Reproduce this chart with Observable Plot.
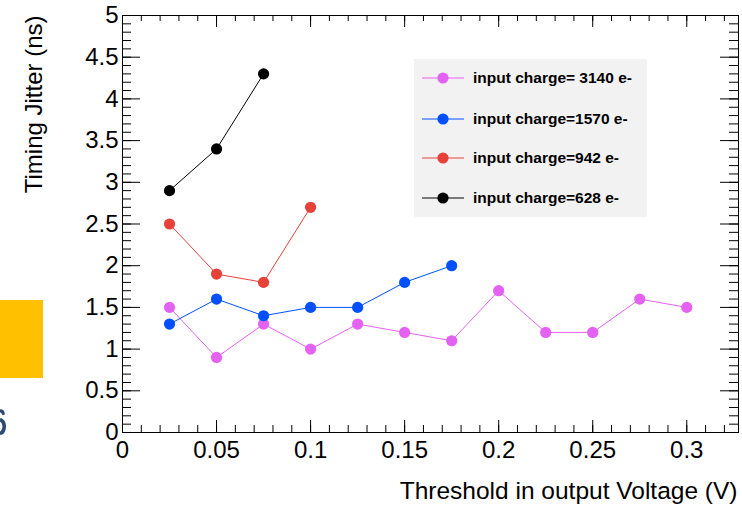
<!DOCTYPE html>
<html><head><meta charset="utf-8">
<script src="https://cdn.jsdelivr.net/npm/d3@7"></script>
<script src="https://cdn.jsdelivr.net/npm/@observablehq/plot@0.6"></script>
<style>
body{margin:0;background:#fff;}
#wrap{position:relative;width:742px;height:505px;overflow:hidden;background:#fff;}
#wrap > svg{position:absolute;left:0;top:0;}
.deco-rect{position:absolute;left:0;top:300px;width:43px;height:78px;background:#ffc000;}
.deco-s{position:absolute;left:0;top:405px;}
.legend{position:absolute;left:414px;top:59px;width:233px;height:158px;background:#f2f2f2;}
.entry{position:absolute;left:8px;height:20px;display:flex;align-items:center;}
.entry svg{display:block;}
.entry span{font:bold 15.5px "Liberation Sans",sans-serif;color:#000;margin-left:7px;white-space:nowrap;}
</style></head><body><div id="wrap"></div>
<script>
// ---- data ----
const thresholds = [0.025, 0.05, 0.075, 0.1, 0.125, 0.15, 0.175, 0.2, 0.225, 0.25, 0.275, 0.3];
const jitter3140 = [1.5, 0.9, 1.3, 1.0, 1.3, 1.2, 1.1, 1.7, 1.2, 1.2, 1.6, 1.5];
const jitter1570 = [1.3, 1.6, 1.4, 1.5, 1.5, 1.8, 2.0];
const jitter942  = [2.5, 1.9, 1.8, 2.7];
const jitter628  = [2.9, 3.4, 4.3];
const seriesNames  = ["input charge= 3140 e-", "input charge=1570 e-", "input charge=942 e-", "input charge=628 e-"];
const seriesColors = ["#e462f2", "#0050ff", "#e6423a", "#000000"];
const xMajorTicks = [0, 0.05, 0.1, 0.15, 0.2, 0.25, 0.3];
const xTickLabels = ["0", "0.05", "0.1", "0.15", "0.2", "0.25", "0.3"];
const yMajorTicks = [0, 0.5, 1, 1.5, 2, 2.5, 3, 3.5, 4, 4.5, 5];
const yTickLabels = ["0", "0.5", "1", "1.5", "2", "2.5", "3", "3.5", "4", "4.5", "5"];
const xMinorTicks = d3.range(0, 33).map(i => i / 100);
const yMinorTicks = d3.range(0, 51).map(i => i / 10);
const xTitle = "Threshold in output Voltage (V)";
const yTitle = "Timing Jitter (ns)";

const seriesValues = [jitter3140, jitter1570, jitter942, jitter628];
const rows = seriesValues.flatMap((vals, s) => vals.map((v, i) => ({x: thresholds[i], y: v, s})));

// ---- layout ----
const W = 742, H = 505, mL = 122, mT = 15, mR = 4, mB = 73;
const iW = W - mL - mR, iH = H - mT - mB;
const font = "Liberation Sans";

const marks = [];
// ticks (inside the frame, on all four sides)
marks.push(Plot.ruleX(xMajorTicks, {insetTop: iH - 12, stroke: "#000"}));
marks.push(Plot.ruleX(xMinorTicks, {insetTop: iH - 7, stroke: "#000"}));
marks.push(Plot.ruleX(xMajorTicks, {insetBottom: iH - 12, stroke: "#000"}));
marks.push(Plot.ruleX(xMinorTicks, {insetBottom: iH - 6, stroke: "#000"}));
marks.push(Plot.ruleY(yMajorTicks, {insetRight: iW - 18, stroke: "#000"}));
marks.push(Plot.ruleY(yMinorTicks, {insetRight: iW - 9, stroke: "#000"}));
marks.push(Plot.ruleY(yMajorTicks, {insetLeft: iW - 18, stroke: "#000"}));
marks.push(Plot.ruleY(yMinorTicks, {insetLeft: iW - 9, stroke: "#000"}));
marks.push(Plot.frame({stroke: "#000", strokeWidth: 1}));
marks.push(Plot.axisX({ticks: xMajorTicks, tickSize: 0, tickPadding: 8, label: null, fontSize: 24,
  tickFormat: d => xTickLabels[xMajorTicks.indexOf(d)]}));
marks.push(Plot.axisY({ticks: yMajorTicks, tickSize: 0, tickPadding: 4, label: null, fontSize: 24,
  tickFormat: d => yTickLabels[yMajorTicks.indexOf(d)]}));
// series
seriesValues.forEach((vals, s) => {
  const d = rows.filter(r => r.s === s);
  marks.push(Plot.line(d, {x: "x", y: "y", stroke: seriesColors[s], strokeWidth: 1}));
  marks.push(Plot.dot(d, {x: "x", y: "y", r: 5.6, fill: seriesColors[s], stroke: "none"}));
});
// axis titles
marks.push(Plot.text([xTitle], {text: d => d, frameAnchor: "bottom-right", textAnchor: "end",
  lineAnchor: "middle", dx: -1, dy: 59, fontSize: 24.5, fill: "#000"}));
marks.push(Plot.text([yTitle], {text: d => d, frameAnchor: "top-left", textAnchor: "end",
  lineAnchor: "middle", rotate: -90, dx: -87.7, dy: 0, fontSize: 24, fill: "#000"}));

const chart = Plot.plot({
  width: W, height: H,
  marginLeft: mL, marginTop: mT, marginRight: mR, marginBottom: mB,
  x: {domain: [0, 0.3275]},
  y: {domain: [0, 5]},
  style: {fontFamily: font, background: "white", color: "#000", fontSize: "24px"},
  marks
});
const wrap = document.getElementById("wrap");
wrap.appendChild(chart);

// decorations at the left edge (fragments of another figure in the reference picture)
const rect = document.createElement("div"); rect.className = "deco-rect"; wrap.appendChild(rect);
const frag = document.createElement("div"); frag.className = "deco-s";
frag.innerHTML = `<svg width="8" height="32" style="display:block">
  <path d="M0,6 Q2.5,5.5 3.2,8.5" fill="none" stroke="#2b4a70" stroke-width="3.2" stroke-linecap="round"/>
  <path d="M0,14.5 Q4.6,16.5 4.2,22 Q3.8,27.5 0,28.5" fill="none" stroke="#2b4a70" stroke-width="3.6"/>
</svg>`;
wrap.appendChild(frag);

// legend
const legend = document.createElement("div"); legend.className = "legend";
const entryY = [19, 60, 99, 139];
seriesNames.forEach((name, s) => {
  const e = document.createElement("div"); e.className = "entry";
  e.style.top = (entryY[s] - 10) + "px";
  e.innerHTML = `<svg width="44" height="20"><line x1="0" y1="10" x2="42" y2="10" stroke="${seriesColors[s]}" stroke-width="1"/><circle cx="21" cy="10" r="5.6" fill="${seriesColors[s]}"/></svg><span></span>`;
  e.querySelector("span").textContent = name;
  legend.appendChild(e);
});
wrap.appendChild(legend);
</script>
</body></html>
